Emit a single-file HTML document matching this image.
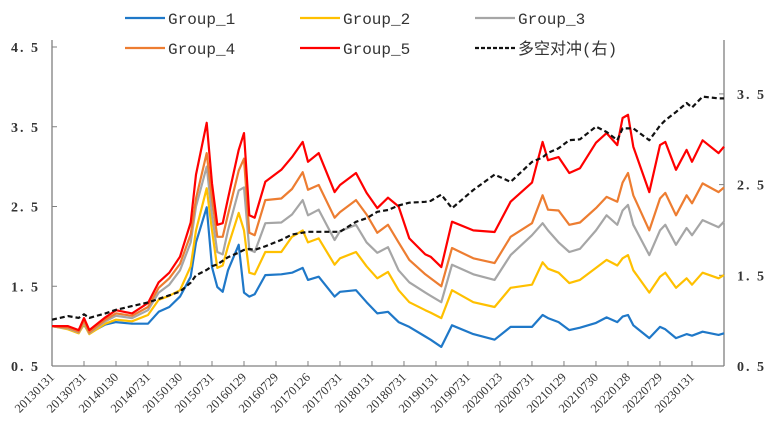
<!DOCTYPE html>
<html><head><meta charset="utf-8"><style>
body{margin:0;background:#fff}
svg text{font-family:"Liberation Mono","Noto Sans CJK SC",monospace}
</style></head><body>
<svg id="c" width="768" height="441" xmlns="http://www.w3.org/2000/svg"></svg>
<script>
const months=[0,3,5,6,7,10,12,15,18,20,22,24,26,27,29,30,31,32,33,35,36,37,38,40,43,45,47,48,50,53,54,57,59,61,63,65,67,70,71,73,75,79,83,86,90,92,93,95,97,99,102,104,106,107,108,109,112,114,115,117,119,120,122,125,126];
const g5=[1.0,1.0,0.95,1.1,0.95,1.11,1.2,1.16,1.29,1.55,1.67,1.87,2.3,2.9,3.55,2.79,2.27,2.29,2.6,3.21,3.42,2.39,2.36,2.81,2.96,3.12,3.31,3.06,3.17,2.68,2.77,2.92,2.67,2.48,2.61,2.5,2.1,1.9,1.87,1.74,2.31,2.2,2.18,2.56,2.8,3.31,3.08,3.12,2.92,2.98,3.3,3.42,3.27,3.61,3.65,3.25,2.68,3.27,3.31,2.96,3.21,3.06,3.33,3.17,3.25];
const g4=[1.0,0.98,0.93,1.07,0.92,1.08,1.16,1.13,1.24,1.48,1.6,1.78,2.15,2.6,3.17,2.6,2.12,2.12,2.4,2.95,3.1,2.17,2.14,2.58,2.6,2.72,2.93,2.71,2.77,2.36,2.43,2.58,2.4,2.17,2.27,2.05,1.83,1.65,1.6,1.5,1.98,1.85,1.79,2.12,2.29,2.64,2.46,2.45,2.27,2.3,2.48,2.62,2.56,2.8,2.92,2.64,2.2,2.6,2.67,2.39,2.64,2.54,2.79,2.68,2.74];
const g3=[1.0,0.97,0.92,1.05,0.91,1.06,1.13,1.1,1.2,1.42,1.52,1.7,2.05,2.5,3.0,2.4,1.93,1.9,2.2,2.7,2.74,1.96,1.93,2.29,2.3,2.4,2.58,2.39,2.46,2.08,2.19,2.27,2.05,1.92,1.99,1.7,1.55,1.42,1.38,1.3,1.77,1.65,1.58,1.89,2.14,2.29,2.2,2.05,1.93,1.97,2.2,2.39,2.27,2.45,2.52,2.27,1.89,2.2,2.27,2.02,2.23,2.14,2.33,2.24,2.31];
const g2=[1.0,0.96,0.91,1.03,0.9,1.03,1.08,1.06,1.14,1.33,1.38,1.45,1.75,2.2,2.73,2.2,1.73,1.76,2.0,2.42,2.2,1.67,1.65,1.93,1.93,2.12,2.2,2.05,2.1,1.77,1.85,1.93,1.75,1.6,1.68,1.45,1.3,1.2,1.17,1.1,1.45,1.3,1.24,1.48,1.52,1.8,1.72,1.67,1.54,1.58,1.73,1.83,1.76,1.85,1.89,1.7,1.42,1.62,1.67,1.48,1.6,1.52,1.67,1.6,1.64];
const g1=[1.0,0.97,0.92,1.02,0.91,1.02,1.05,1.03,1.03,1.18,1.24,1.37,1.62,2.05,2.49,1.74,1.49,1.43,1.7,2.02,1.42,1.37,1.4,1.64,1.65,1.67,1.73,1.58,1.62,1.37,1.43,1.45,1.3,1.16,1.18,1.05,0.99,0.87,0.83,0.74,1.01,0.9,0.83,0.99,0.99,1.14,1.1,1.05,0.95,0.98,1.04,1.11,1.05,1.12,1.14,1.01,0.85,0.99,0.96,0.85,0.9,0.88,0.93,0.89,0.91];
const ls=[1.01,1.05,1.03,1.07,1.03,1.08,1.12,1.16,1.2,1.24,1.28,1.32,1.42,1.5,1.56,1.6,1.62,1.66,1.7,1.75,1.78,1.79,1.78,1.82,1.89,1.95,1.97,1.98,1.98,1.98,1.98,2.09,2.13,2.2,2.22,2.27,2.3,2.31,2.32,2.39,2.24,2.44,2.61,2.53,2.75,2.8,2.85,2.9,2.99,3.0,3.14,3.08,2.99,3.12,3.12,3.12,2.99,3.15,3.21,3.3,3.4,3.35,3.47,3.45,3.45];
const xLabels=["20130131","20130731","20140130","20140731","20150130","20150731","20160129","20160729","20170126","20170731","20180131","20180731","20190131","20190731","20200123","20200731","20210129","20210730","20220128","20220729","20230131"];
const leftTicks=["0.5","1.5","2.5","3.5","4.5"];
const rightTicks=["0.5","1.5","2.5","3.5"];

const X0=52,X1=724,Y0=366;
const xs=m=>X0+m*5.333;
const yl=v=>Y0-(v-0.5)*79.75;
const yr=v=>Y0-(v-0.5)*90.7;
const svg=document.getElementById('c');
const NS='http://www.w3.org/2000/svg';
function mk(t,a,txt){const e=document.createElementNS(NS,t);for(const k in a)e.setAttribute(k,a[k]);if(txt!=null)e.textContent=txt;svg.appendChild(e);return e;}

let e;
e=mk('line',{x1:X0,y1:40,x2:X0,y2:Y0,stroke:'#808080','stroke-width':1.3});

e=mk('line',{x1:X1,y1:40,x2:X1,y2:Y0,stroke:'#808080','stroke-width':1.3});

e=mk('line',{x1:X0,y1:Y0,x2:X1,y2:Y0,stroke:'#808080','stroke-width':1.3});


leftTicks.forEach(t=>{const y=yl(parseFloat(t));
 mk('line',{x1:X0,y1:y,x2:X0+5,y2:y,stroke:'#808080'});
 e=mk('text',{x:40,y:y+5,'text-anchor':'end','font-size':14,'font-weight':'bold',fill:'#333',style:'font-family:"Liberation Serif",serif;letter-spacing:2px'},t.replace('.','. '));
 
});
rightTicks.forEach(t=>{const y=yr(parseFloat(t));
 mk('line',{x1:X1-5,y1:y,x2:X1,y2:y,stroke:'#808080'});
 e=mk('text',{x:737,y:y+5,'font-size':14,'font-weight':'bold',fill:'#333',style:'font-family:"Liberation Serif",serif;letter-spacing:2px'},t.replace('.','. '));
 
});
xLabels.forEach((t,i)=>{const x=xs(i*6);
 if(i>0)mk('line',{x1:x,y1:Y0-5,x2:x,y2:Y0,stroke:'#808080'});
 e=mk('text',{x:x+3,y:Y0+12,'text-anchor':'end','font-size':12.5,fill:'#333',transform:`rotate(-45 ${x+3} ${Y0+12})`,style:'font-family:"Liberation Serif",serif'},t);
 
});

function line(arr,col,yf,name,dash){
 const d=arr.map((v,i)=>(i?'L':'M')+xs(months[i]).toFixed(1)+' '+yf(v).toFixed(1)).join(' ');
 const a={d:d,fill:'none',stroke:col,'stroke-width':2.2,'stroke-linejoin':'round'};
 if(dash)a['stroke-dasharray']=dash;
 const p=mk('path',a);
 
 
}
line(g1,'#1f78c8',yl,'series-group-1');
line(g2,'#ffc000',yl,'series-group-2');
line(g3,'#a6a6a6',yl,'series-group-3');
line(g4,'#ed7d31',yl,'series-group-4');
line(g5,'#ff0000',yl,'series-group-5');
line(ls,'#111',yr,'series-long-short','5 3');

const leg=[['Group_1','#1f78c8',125,19,null],['Group_2','#ffc000',300,19,null],['Group_3','#a6a6a6',475,19,null],
['Group_4','#ed7d31',125,49,null],['Group_5','#ff0000',300,49,null],['多空对冲(右)','#111',475,49,'4 2']];
leg.forEach(l=>{
 const a={x1:l[2],y1:l[3]-1,x2:l[2]+40,y2:l[3]-1,stroke:l[1],'stroke-width':2.2};
 if(l[4])a['stroke-dasharray']=l[4];
 mk('line',a);
 e=mk('text',{x:l[2]+43,y:l[3]+5,'font-size':16,fill:'#333'},l[0]);
 
});
</script>
</body></html>
